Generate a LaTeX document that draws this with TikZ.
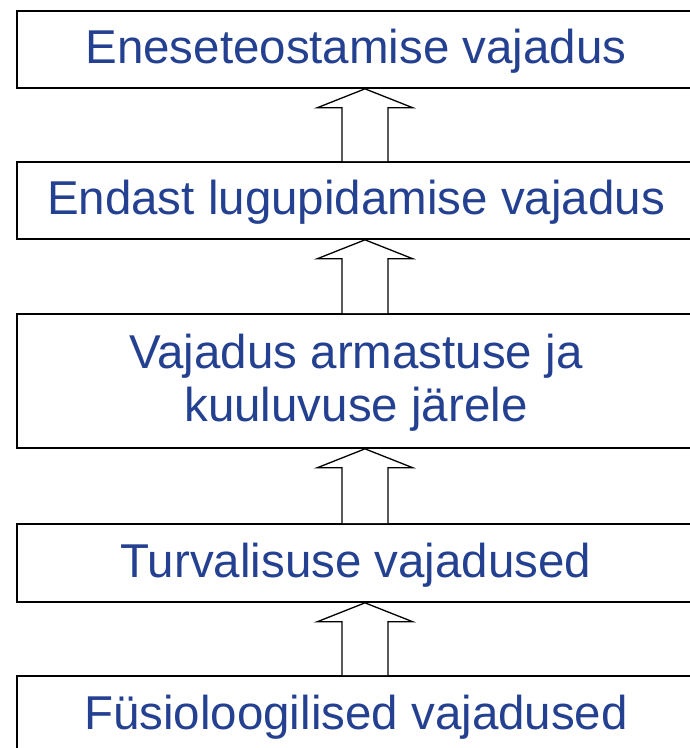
\documentclass[tikz,border=0pt]{standalone}
\usepackage{fontspec}
\setmainfont{Liberation Sans}
\usepackage{xcolor,tikz}
\usetikzlibrary{calc,positioning}
\definecolor{tekstisinine}{RGB}{36,64,145}

\begin{document}
\begin{tikzpicture}[x=1pt,y=1pt,
  vajadus/.style={draw, line width=1.7pt, minimum width=678pt, inner sep=0pt,
    text height=29pt, text depth=0pt,
    text=tekstisinine, align=center, font=\fontsize{47.5}{53}\selectfont},
  nool/.style={draw, line width=1.3pt, fill=white}]
\useasboundingbox (0,0) rectangle (690,748);
\node[vajadus, minimum height=77pt] (eneseteostus) at (356,698.5) {Eneseteostamise vajadus};
\node[vajadus, minimum height=77pt] (lugupidamine) at (356,547.5) {Endast lugupidamise vajadus};
\node[vajadus, minimum height=134pt, text height=82pt] (armastus) at (356,367) {Vajadus armastuse ja\\kuuluvuse järele};
\node[vajadus, minimum height=78pt] (turvalisus) at (356,185) {Turvalisuse vajadused};
\node[vajadus, minimum height=78pt] (fysioloogia) at (356,33) {Füsioloogilised vajadused};
%%%%%%%%%%
\foreach \alumine/\ulemine in {fysioloogia/turvalisus, turvalisus/armastus, armastus/lugupidamine, lugupidamine/eneseteostus}
  \draw[nool] ($(\alumine.north)+(-14,0)$) -- ($(\ulemine.south)+(-14,-19)$) -- ($(\ulemine.south)+(-39,-19)$)
    -- ($(\ulemine.south)+(9,0)$) -- ($(\ulemine.south)+(57,-19)$) -- ($(\ulemine.south)+(32,-19)$) -- ($(\alumine.north)+(32,0)$);
\end{tikzpicture}
\end{document}
